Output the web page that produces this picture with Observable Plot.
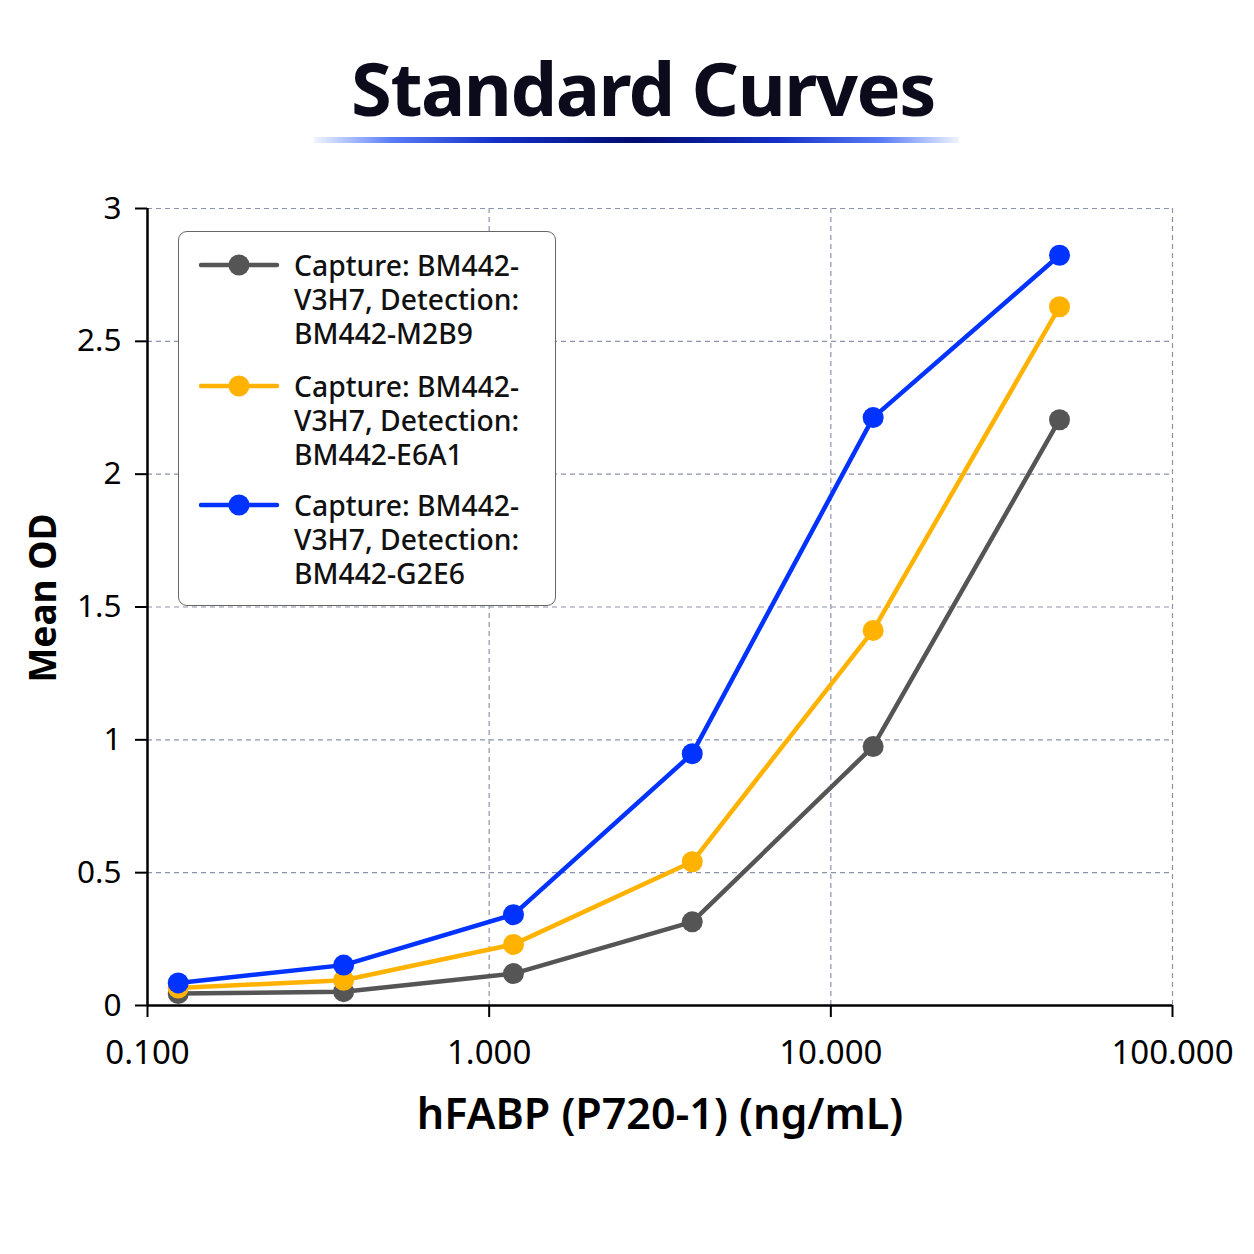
<!DOCTYPE html>
<html>
<head>
<meta charset="utf-8">
<script src="https://cdn.jsdelivr.net/npm/d3@7"></script>
<script src="https://cdn.jsdelivr.net/npm/@observablehq/plot@0.6"></script>
<style>
  html, body { margin: 0; padding: 0; background: #fff; }
  body { width: 1254px; height: 1254px; overflow: hidden; font-family: "Noto Sans", sans-serif; }
  #wrap { position: relative; width: 1254px; height: 1254px; }
  #header { height: 170px; position: relative; }
  #title { position: absolute; left: 32px; right: 0; top: 51px; text-align: center; font-weight: 700; font-size: 74px; line-height: 1; color: #0b0b1c; margin: 0; letter-spacing: -1.5px; }
  #bar { position: absolute; left: 314px; width: 645px; top: 137px; height: 6px;
    background: linear-gradient(to right, rgba(150,185,255,0.15) 0%, #5a7cf5 12%, #1530c8 28%, #000c70 50%, #1530c8 72%, #5a7cf5 88%, rgba(150,185,255,0.15) 100%); }
  #legend { position: absolute; left: 178px; top: 231px; width: 376px; height: 373px; border: 1.5px solid #666; border-radius: 9px; background: #fff; }
  .entry { position: absolute; left: 0; }
  .entry svg { position: absolute; left: 20px; top: 0; }
  .entry .txt { position: absolute; left: 115px; top: 0; font-size: 28.3px; line-height: 34px; color: #111; white-space: nowrap; font-weight: 500; }
</style>
</head>
<body>
<div id="wrap">
  <div id="header"><h1 id="title">Standard Curves</h1><div id="bar"></div></div>
  <div id="chart"></div>
  <div id="legend"></div>
</div>
<script>
// ---- data ----
const concentrations = [0.123, 0.375, 1.178, 3.93, 13.3, 46.7];
const seriesNames = [
  "Capture: BM442-V3H7, Detection: BM442-M2B9",
  "Capture: BM442-V3H7, Detection: BM442-E6A1",
  "Capture: BM442-V3H7, Detection: BM442-G2E6"
];
const legendLines = [
  ["Capture: BM442-", "V3H7, Detection:", "BM442-M2B9"],
  ["Capture: BM442-", "V3H7, Detection:", "BM442-E6A1"],
  ["Capture: BM442-", "V3H7, Detection:", "BM442-G2E6"]
];
const odM2B9 = [0.045, 0.052, 0.12, 0.315, 0.975, 2.205];
const odE6A1 = [0.066, 0.095, 0.23, 0.541, 1.412, 2.63];
const odG2E6 = [0.085, 0.152, 0.342, 0.948, 2.213, 2.824];
const seriesColors = ["#555555", "#FFB300", "#0033FF"];
const xTicks = [0.1, 1, 10, 100];
const xGrid = [1, 10, 100];
const yTicks = [0, 0.5, 1, 1.5, 2, 2.5, 3];
const yGrid = [0.5, 1, 1.5, 2, 2.5, 3];
const xLabel = "hFABP (P720-1) (ng/mL)";
const yLabel = "Mean OD";

const allOD = [odM2B9, odE6A1, odG2E6];
const data = [];
allOD.forEach((vals, si) => vals.forEach((v, i) => data.push({series: seriesNames[si], x: concentrations[i], y: v})));

const gridStyle = {stroke: "#8d93ab", strokeOpacity: 1, strokeWidth: 1.2, strokeDasharray: "5,4"};

const chart = Plot.plot({
  width: 1254,
  height: 1084,
  marginLeft: 147,
  marginRight: 82,
  marginTop: 38,
  marginBottom: 249,
  style: {fontFamily: "Noto Sans, sans-serif", fontSize: "30px", color: "#000", background: "#fff"},
  x: {type: "log", domain: [0.1, 100]},
  y: {domain: [0, 3]},
  color: {domain: seriesNames, range: seriesColors},
  marks: [
    Plot.gridY(yGrid, gridStyle),
    Plot.gridX(xGrid, gridStyle),
    Plot.axisX(xTicks, {tickSize: 12, tickPadding: 23, strokeWidth: 2, fontSize: 33, tickFormat: d3.format(".3f"), label: null}),
    Plot.axisY(yTicks, {tickSize: 12, tickPadding: 14, strokeWidth: 2, fontSize: 31.5, tickFormat: d => String(d), label: null}),
    Plot.ruleX([0.1], {stroke: "#000", strokeWidth: 2.5}),
    Plot.ruleY([0], {stroke: "#000", strokeWidth: 2.5}),
    Plot.line(data, {x: "x", y: "y", z: "series", stroke: "series", strokeWidth: 4.5, strokeLinejoin: "round"}),
    Plot.dot(data, {x: "x", y: "y", fill: "series", r: 10.5}),
    Plot.text([xLabel], {frameAnchor: "bottom", lineAnchor: "middle", dy: 110, fontSize: 43, fontWeight: 600, fill: "#000"}),
    Plot.text([yLabel], {frameAnchor: "left", textAnchor: "middle", rotate: -90, dx: -103, dy: -9, fontSize: 37, fontWeight: 700, fill: "#000"})
  ]
});
document.getElementById("chart").appendChild(chart);

// ---- legend ----
const legend = document.getElementById("legend");
const entryTops = [16, 137, 256];
seriesNames.forEach((name, i) => {
  const e = document.createElement("div");
  e.className = "entry";
  e.style.top = entryTops[i] + "px";
  e.innerHTML = `<svg width="82" height="34"><line x1="2" x2="78" y1="17" y2="17" stroke="${seriesColors[i]}" stroke-width="4.5" stroke-linecap="round"/><circle cx="40" cy="17" r="10.5" fill="${seriesColors[i]}"/></svg><div class="txt">${legendLines[i].join("<br>")}</div>`;
  legend.appendChild(e);
});
</script>
</body>
</html>
